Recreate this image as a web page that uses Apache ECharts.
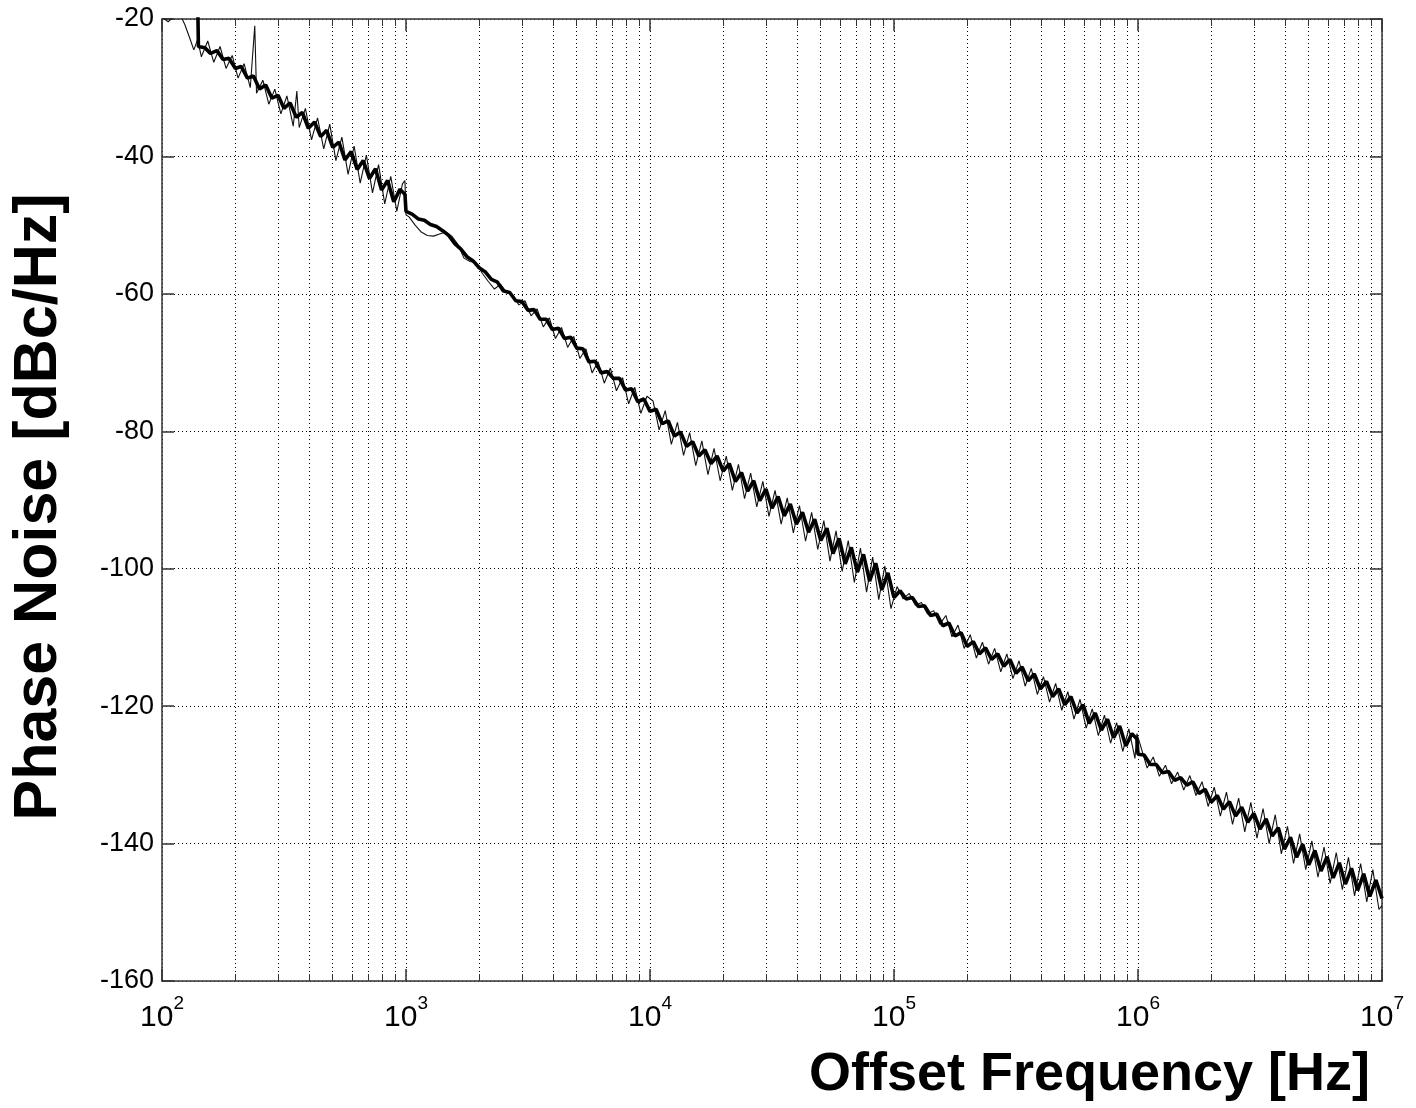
<!DOCTYPE html>
<html><head><meta charset="utf-8">
<script src="https://cdn.jsdelivr.net/npm/echarts@6/dist/echarts.min.js"></script>
<style>html,body{margin:0;padding:0;background:#fff}#c{width:1416px;height:1108px}</style>
</head><body><div id="c"></div>
<script>
// Offset frequency grid of the main (thick) trace [Hz]
const freqHz = [
  100,106,112,118,124,130,135,140,
  141,150,158,168,178,188,200,211,224,237,251,266,282,299,316,335,355,376,398,422,447,473,501,531,562,596,631,668,708,750,794,841,891,944,990,
  1000,1059,1122,1189,1259,1334,1413,1496,1585,1679,1778,1884,1995,2113,2239,2371,2512,2661,2818,2985,3162,3350,3548,3758,3981,4217,4467,4732,5012,5309,5623,5957,6310,6683,7079,7499,7943,8414,8913,9441,
  10000,10593,11220,11885,12589,13335,14125,14962,15849,16788,17783,18836,19953,21135,22387,23714,25119,26607,28184,29854,31623,33497,35481,37584,39811,42170,44668,47315,50119,53088,56234,59566,63096,66834,70795,74989,79433,84140,89125,94406,
  100000,105925,112202,118850,125893,133352,141254,149624,158489,167880,177828,188365,199526,211349,223872,237137,251189,266073,281838,298538,316228,334965,354813,375837,398107,421697,446684,473151,501187,530884,562341,595662,630957,668344,707946,749894,794328,841395,891251,944061,990000,
  1000000,1059254,1122018,1188502,1258925,1333521,1412538,1496236,1584893,1678804,1778279,1883649,1995262,2113489,2238721,2371374,2511886,2660725,2818383,2985383,3162278,3349654,3548134,3758374,3981072,4216965,4466836,4731513,5011872,5308844,5623413,5956621,6309573,6683439,7079458,7498942,7943282,8413951,8912509,9440609,10000000
];
// Thick (main) phase noise trace [dBc/Hz]
const traceMain = [
  null,null,null,null,null,null,null,-17,
  -24.0,-24.2,-25.0,-24.6,-25.9,-25.7,-27.2,-26.9,-28.6,-28.3,-30.2,-29.6,-31.5,-31.1,-33.0,-32.2,-34.3,-33.6,-35.9,-35.0,-37.1,-36.2,-38.7,-37.9,-40.5,-39.3,-41.9,-40.6,-43.2,-41.8,-44.9,-43.5,-46.6,-44.8,-45.5,
  -48.0,-48.4,-49.1,-49.3,-49.9,-50.2,-50.8,-51.5,-52.7,-53.5,-54.6,-55.2,-56.2,-56.8,-57.9,-58.3,-59.6,-59.8,-61.0,-61.1,-62.4,-62.3,-63.7,-63.7,-65.2,-65.0,-66.5,-66.3,-67.9,-68.0,-69.9,-69.8,-71.5,-71.3,-72.3,-72.3,-74.0,-73.8,-75.7,-75.3,
  -77.1,-76.8,-78.9,-78.5,-80.7,-80.1,-82.2,-81.5,-83.6,-82.7,-84.7,-83.6,-85.8,-84.7,-87.3,-86.0,-88.7,-87.2,-90.1,-88.4,-91.2,-89.5,-92.3,-90.6,-93.5,-91.8,-94.7,-92.8,-95.9,-94.1,-97.8,-95.6,-99.3,-96.9,-100.5,-97.9,-101.8,-99.2,-103.1,-100.6,
  -104.2,-103.2,-104.4,-104.2,-105.5,-105.4,-106.8,-106.6,-108.3,-107.9,-109.8,-109.3,-111.3,-110.6,-112.4,-111.5,-113.2,-112.4,-114.2,-113.2,-115.2,-114.3,-116.3,-115.3,-117.5,-116.4,-118.6,-117.5,-119.8,-118.6,-121.0,-119.8,-122.5,-121.0,-123.5,-121.9,-124.6,-122.9,-125.8,-124.0,-124.8,
  -127.0,-127.1,-128.5,-128.5,-129.7,-129.5,-130.8,-130.4,-131.5,-131.0,-132.7,-132.1,-134.0,-133.0,-135.0,-133.9,-136.0,-134.7,-136.9,-135.6,-137.9,-136.4,-138.9,-137.7,-140.8,-139.1,-142.0,-140.1,-143.1,-141.0,-144.0,-141.9,-145.0,-142.8,-145.9,-143.6,-146.8,-144.4,-147.7,-145.3,-148.0
];
// Offset frequency grid of the thin trace [Hz]
const thinFreqHz = [
  100,106,112,118,124,130,135,140,
  145,154,163,173,183,194,205,217,230,240,244,259,274,290,307,325,345,357,365,387,410,434,460,487,516,546,579,613,649,688,729,772,818,866,917,967,990,1000,
  1029,1090,1155,1223,1296,1373,1454,1540,1631,1728,1830,1939,2054,2175,2304,2441,2586,2738,2901,3073,3255,3447,3652,3868,4097,4340,4597,4870,5158,5464,5788,6131,6494,6879,7286,7718,8175,8660,9173,9716,
  10292,10901,11548,12232,12957,13725,14538,15399,16312,17278,18302,19387,20535,21752,23041,24406,25852,27384,29007,30726,32546,34475,36517,38681,40973,43401,45973,48697,51582,54639,57876,61306,64938,68786,72862,77179,81752,86596,91728,97163,
  102920,109010,115480,122320,129570,137250,145380,153990,163120,172780,183020,193870,205350,217520,230410,244060,258520,273840,290070,307260,325460,344750,365170,386810,409730,434010,459730,486970,515820,546390,578760,613060,649380,687860,728620,771790,817520,865960,917280,971630,990000,
  1029200,1090100,1154800,1223200,1295700,1372500,1453800,1539900,1631200,1727800,1830200,1938700,2053500,2175200,2304100,2440600,2585200,2738400,2900700,3072600,3254600,3447500,3651700,3868100,4097300,4340100,4597300,4869700,5158200,5463900,5787600,6130600,6493800,6878600,7286200,7717900,8175200,8659600,9172800,9716300,10000000
];
// Thin (second) trace [dBc/Hz]
const traceThin = [
  -19.7,-20.4,-19.6,-19.2,-20.8,-22.8,-24.5,-23.0,
  -25.5,-23.2,-26.3,-24.0,-27.2,-25.3,-28.6,-26.5,-30.0,-21.0,-30.8,-28.9,-32.4,-30.2,-33.8,-31.2,-35.6,-30.5,-35.8,-33.0,-37.6,-34.4,-38.9,-35.3,-40.6,-37.2,-42.6,-38.5,-43.9,-39.8,-45.3,-41.2,-46.9,-42.9,-48.0,-44.0,-43.5,-48.5,
  -48.8,-50.0,-51.0,-51.5,-51.6,-51.3,-51.0,-51.6,-52.8,-54.8,-55.3,-55.5,-57.0,-58.2,-59.3,-58.6,-59.8,-60.2,-61.6,-61.0,-63.2,-62.2,-64.8,-63.5,-66.5,-64.9,-67.8,-66.2,-69.4,-68.0,-71.5,-69.9,-73.0,-70.8,-74.1,-72.2,-76.0,-73.6,-77.4,-74.9,
  -75.6,-79.8,-77.0,-81.9,-78.7,-83.5,-80.2,-85.0,-81.4,-86.3,-82.5,-87.2,-83.6,-88.6,-84.8,-89.8,-86.1,-91.0,-87.3,-92.4,-88.6,-93.5,-89.7,-94.8,-90.8,-96.0,-91.8,-97.2,-93.0,-98.9,-94.5,-100.4,-95.9,-102.0,-97.0,-103.4,-98.3,-104.5,-99.6,-105.8,
  -102.6,-104.4,-103.6,-105.3,-104.9,-106.6,-106.1,-108.1,-106.8,-109.9,-108.2,-111.6,-109.6,-113.0,-110.7,-113.9,-111.6,-115.0,-112.4,-116.0,-113.4,-117.1,-114.5,-118.3,-115.7,-119.4,-116.7,-120.6,-117.9,-121.9,-119.0,-123.2,-120.4,-124.3,-121.3,-125.4,-122.4,-126.6,-123.3,-127.6,-124.0,
  -126.0,-129.0,-127.4,-130.2,-128.6,-131.3,-129.6,-132.2,-130.1,-133.0,-131.0,-134.6,-131.8,-136.0,-132.5,-137.2,-133.4,-138.3,-134.0,-139.2,-134.9,-140.0,-135.8,-141.5,-137.5,-142.9,-138.6,-143.8,-139.6,-144.9,-140.5,-145.8,-141.3,-146.7,-142.0,-147.6,-142.9,-148.5,-143.8,-149.6,-149.0
];
const xTickExponents = [2,3,4,5,6,7];
const yTickValues = [-160,-140,-120,-100,-80,-60,-40,-20];
const xTitle = 'Offset Frequency [Hz]';
const yTitle = 'Phase Noise [dBc/Hz]';

const FONT = "'Liberation Sans', Arial, Helvetica, sans-serif";
const dotted = {color:'#000', width:1, type:[1,3]};
const axisLineStyle = {color:'#333', width:1.5};

const mainData = freqHz.map((f,i)=>[f, traceMain[i]]);
const thinData = thinFreqHz.map((f,i)=>[f, traceThin[i]]);

const chart = echarts.init(document.getElementById('c'), null, {renderer:'canvas'});
chart.setOption({
  backgroundColor:'#fff',
  animation:false,
  grid:{left:162, right:34, top:19, bottom:127, containLabel:false},
  xAxis:[{
    type:'log', logBase:10, min:100, max:1e7, position:'bottom',
    name:xTitle, nameLocation:'end', nameGap:-12,
    nameTextStyle:{fontFamily:FONT, fontWeight:'bold', fontSize:54, color:'#000', align:'right', verticalAlign:'top', padding:[67,0,0,0]},
    axisLine:{show:true, lineStyle:axisLineStyle},
    axisTick:{show:true, inside:true, length:12, lineStyle:{color:'#333', width:1.5}},
    minorTick:{show:true, splitNumber:9, length:7, lineStyle:{color:'#333', width:1}},
    splitLine:{show:true, lineStyle:dotted},
    minorSplitLine:{show:true, lineStyle:dotted},
    axisLabel:{
      margin:13,
      formatter:(v)=>{
        const e = Math.round(Math.log10(v));
        return xTickExponents.includes(e) ? '{b|10}{s|'+e+'}' : '';
      },
      rich:{
        b:{fontFamily:FONT, fontSize:30, color:'#000', verticalAlign:'bottom', lineHeight:32},
        s:{fontFamily:FONT, fontSize:19, color:'#000', verticalAlign:'bottom', padding:[0,0,20,0]}
      }
    }
  },{
    type:'log', logBase:10, min:100, max:1e7, position:'top',
    axisLine:{show:true, lineStyle:axisLineStyle},
    axisTick:{show:true, inside:true, length:12, lineStyle:{color:'#333', width:1.5}},
    minorTick:{show:true, splitNumber:9, length:7, lineStyle:{color:'#333', width:1}},
    axisLabel:{show:false}, splitLine:{show:false}
  }],
  yAxis:[{
    type:'value', min:-160, max:-20, interval:20, position:'left',
    name:yTitle, nameLocation:'middle', nameGap:92, nameRotate:90,
    nameTextStyle:{fontFamily:FONT, fontWeight:'bold', fontSize:61, color:'#000', padding:[0,14,0,0]},
    axisLine:{show:true, lineStyle:axisLineStyle},
    axisTick:{show:true, inside:true, length:12, lineStyle:{color:'#333', width:1.5}},
    splitLine:{show:true, lineStyle:dotted},
    axisLabel:{margin:8, fontFamily:FONT, fontSize:27, color:'#000',
      formatter:(v)=> yTickValues.includes(v) ? String(v) : ''}
  },{
    type:'value', min:-160, max:-20, interval:20, position:'right',
    axisLine:{show:true, lineStyle:axisLineStyle},
    axisTick:{show:true, inside:true, length:12, lineStyle:{color:'#333', width:1.5}},
    axisLabel:{show:false}, splitLine:{show:false}
  }],
  series:[{
    name:'trace 2', type:'line', data:thinData, showSymbol:false, symbol:'none',
    lineStyle:{color:'#111', width:1.1}, clip:true, z:3
  },{
    name:'trace 1', type:'line', data:mainData, showSymbol:false, symbol:'none',
    lineStyle:{color:'#000', width:3.6}, clip:true, z:4
  }]
});
</script></body></html>
